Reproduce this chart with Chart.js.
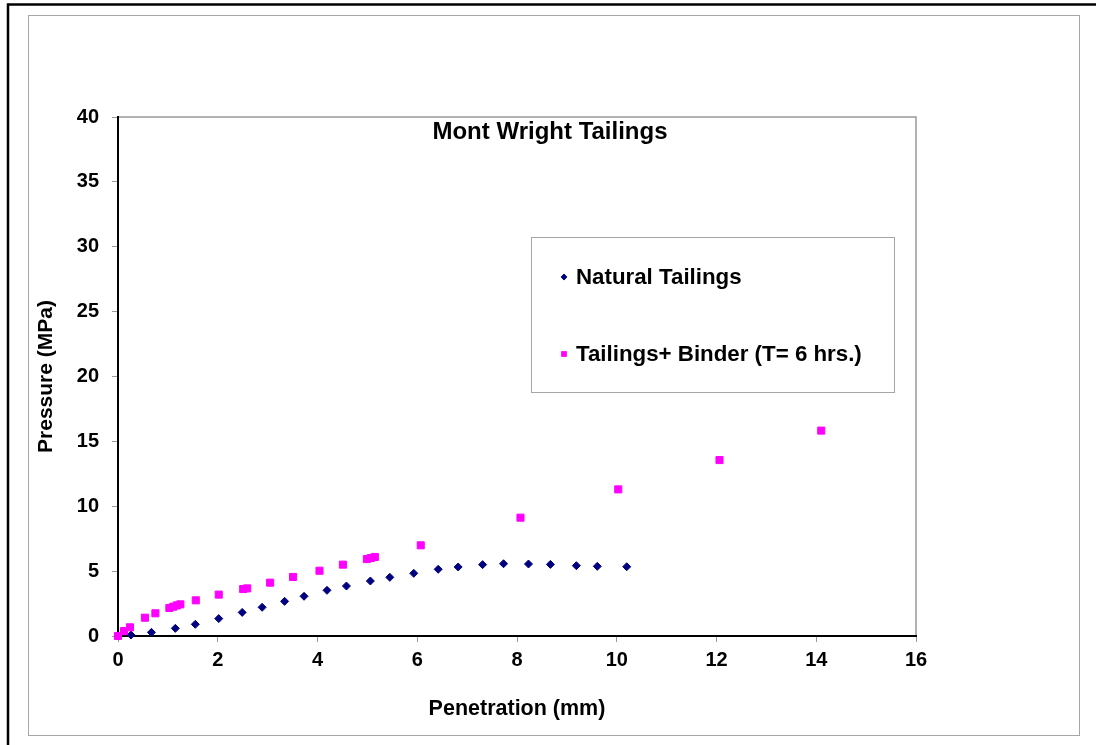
<!DOCTYPE html>
<html>
<head>
<meta charset="utf-8">
<script src="https://cdn.jsdelivr.net/npm/chart.js@4/dist/chart.umd.min.js"></script>
<style>
  html, body { margin: 0; padding: 0; background: #fff; }
  #wrap { position: relative; width: 1096px; height: 745px; }
</style>
</head>
<body>
<div id="wrap"><canvas id="penetration-chart"></canvas></div>
<script>
// penetration (mm) / pressure (MPa) readings
var naturalX = [0, 0.26, 0.67, 1.15, 1.55, 2.02, 2.49, 2.89, 3.34, 3.73, 4.19, 4.58, 5.06, 5.45, 5.93, 6.42, 6.82, 7.31, 7.73, 8.23, 8.67, 9.19, 9.61, 10.20];
var naturalY = [0, 0.08, 0.28, 0.59, 0.90, 1.34, 1.82, 2.21, 2.67, 3.06, 3.52, 3.85, 4.24, 4.52, 4.83, 5.14, 5.32, 5.50, 5.57, 5.55, 5.52, 5.42, 5.37, 5.34];
var binderX = [0, 0.12, 0.24, 0.54, 0.75, 1.03, 1.11, 1.18, 1.25, 1.56, 2.02, 2.51, 2.59, 3.05, 3.51, 4.04, 4.51, 4.99, 5.07, 5.15, 6.07, 8.07, 10.03, 12.06, 14.10];
var binderY = [0, 0.38, 0.67, 1.41, 1.75, 2.16, 2.26, 2.36, 2.44, 2.75, 3.19, 3.62, 3.67, 4.11, 4.55, 5.03, 5.50, 5.93, 6.01, 6.09, 6.99, 9.12, 11.30, 13.56, 15.83];
var seriesNames = ["Natural Tailings", "Tailings+ Binder (T= 6 hrs.)"];
var chartTitle = "Mont Wright Tailings";
var xTitle = "Penetration (mm)";
var yTitle = "Pressure (MPa)";

function toPoints(xs, ys) {
    var pts = [];
    for (var i = 0; i < xs.length; i++) pts.push({x: xs[i], y: ys[i]});
    return pts;
}

var FONT = "'Liberation Sans', Arial, sans-serif";

// frames around the whole sheet, plus the grey top/right edge of the plot
var framePlugin = {
    id: 'frames',
    beforeDraw: function(chart) {
        var ctx = chart.ctx, a = chart.chartArea;
        ctx.save();
        ctx.strokeStyle = '#000';
        ctx.lineWidth = 2.5;
        ctx.strokeRect(8, 4.5, 1200, 800);
        ctx.strokeStyle = '#a6a6a6';
        ctx.lineWidth = 1;
        ctx.strokeRect(28.5, 15.5, 1051, 720);
        ctx.strokeStyle = '#9a9a9a';
        ctx.lineWidth = 1.5;
        ctx.beginPath();
        ctx.moveTo(a.left, a.top);
        ctx.lineTo(a.right, a.top);
        ctx.lineTo(a.right, a.bottom);
        ctx.stroke();
        ctx.restore();
    }
};

// title inside the plot area and the boxed legend
var insidePlugin = {
    id: 'inside',
    afterDraw: function(chart) {
        var ctx = chart.ctx;
        ctx.save();
        ctx.fillStyle = '#000';
        ctx.font = 'bold 24px ' + FONT;
        ctx.textAlign = 'center';
        ctx.textBaseline = 'middle';
        ctx.fillText(chartTitle, 550, 132);

        ctx.strokeStyle = '#a6a6a6';
        ctx.lineWidth = 1;
        ctx.strokeRect(531.5, 237.5, 363, 155);

        ctx.font = 'bold 22.3px ' + FONT;
        ctx.textAlign = 'left';
        var rows = [277, 354];
        chart.data.datasets.forEach(function(ds, i) {
            var y = rows[i];
            ctx.fillStyle = ds.backgroundColor;
            Chart.helpers.drawPoint(ctx, {pointStyle: ds.pointStyle, radius: i === 0 ? 3.2 : 3.8, rotation: 0, borderWidth: 0}, 564, y);
            ctx.fill();
            ctx.fillStyle = '#000';
            ctx.fillText(ds.label, 576, y + 1);
        });
        ctx.restore();
    }
};

new Chart(document.getElementById("penetration-chart"), {
    type: 'scatter',
    data: {
        datasets: [
            {
                label: seriesNames[0],
                data: toPoints(naturalX, naturalY),
                pointStyle: 'rectRot',
                pointRadius: 4,
                borderWidth: 1,
                backgroundColor: '#000080',
                borderColor: '#000080',
                clip: false,
                order: 1
            },
            {
                label: seriesNames[1],
                data: toPoints(binderX, binderY),
                pointStyle: 'rect',
                pointRadius: 5,
                borderWidth: 1,
                backgroundColor: '#ff00ff',
                borderColor: '#ff00ff',
                clip: false,
                order: 0
            }
        ]
    },
    options: {
        responsive: true,
        maintainAspectRatio: false,
        animation: false,
        layout: { padding: { left: 28, top: 117, right: 180, bottom: 19 } },
        plugins: {
            legend: { display: false },
            tooltip: { enabled: false }
        },
        scales: {
            x: {
                type: 'linear',
                min: 0, max: 16,
                ticks: { stepSize: 2, color: '#000', padding: 6, font: { family: FONT, size: 20, weight: 'bold' } },
                grid: { drawOnChartArea: false, color: '#999', tickLength: 6 },
                border: { color: '#000', width: 2 },
                title: { display: true, text: xTitle, color: '#000', padding: { bottom: 4 }, font: { family: FONT, size: 21.5, weight: 'bold' } },
                afterFit: function(s) { s.height = 90; }
            },
            y: {
                min: 0, max: 40,
                ticks: { stepSize: 5, color: '#000', padding: 13, font: { family: FONT, size: 20, weight: 'bold' } },
                grid: { drawOnChartArea: false, color: '#999', tickLength: 6 },
                border: { color: '#000', width: 2 },
                title: { display: true, text: yTitle, color: '#000', padding: { top: 6 }, font: { family: FONT, size: 21, weight: 'bold' } },
                afterFit: function(s) { s.width = 90; }
            }
        }
    },
    plugins: [framePlugin, insidePlugin]
});
</script>
</body>
</html>
